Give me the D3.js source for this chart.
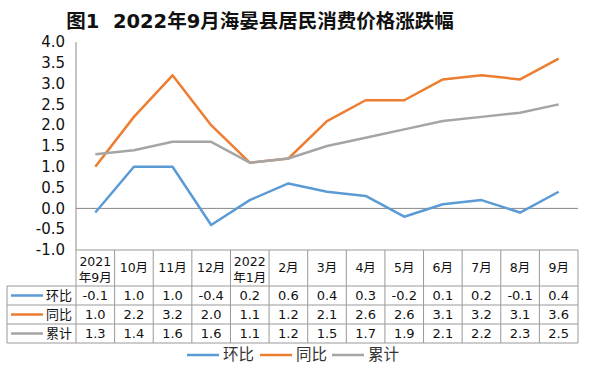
<!DOCTYPE html>
<html><head><meta charset="utf-8">
<script src="https://cdn.jsdelivr.net/npm/d3@7"></script>
<style>body{margin:0;background:#fff}svg{display:block;font-family:"DejaVu Sans","Noto Sans CJK SC",sans-serif}</style>
</head><body>
<script>
const categories = [["2021","年9月"],["10月"],["11月"],["12月"],["2022","年1月"],["2月"],["3月"],["4月"],["5月"],["6月"],["7月"],["8月"],["9月"]];
const seriesNames = ["环比","同比","累计"];
const huanbi = [-0.1,1.0,1.0,-0.4,0.2,0.6,0.4,0.3,-0.2,0.1,0.2,-0.1,0.4];
const tongbi = [1.0,2.2,3.2,2.0,1.1,1.2,2.1,2.6,2.6,3.1,3.2,3.1,3.6];
const leiji = [1.3,1.4,1.6,1.6,1.1,1.2,1.5,1.7,1.9,2.1,2.2,2.3,2.5];
const yTicks = [4.0,3.5,3.0,2.5,2.0,1.5,1.0,0.5,0.0,-0.5,-1.0];
const colors = ["#5B9BD5","#ED7D31","#A5A5A5"];
const series = [huanbi, tongbi, leiji];

const W=590,H=368;
const svg=d3.select("body").append("svg").attr("width",W).attr("height",H);
const L=76,R=578,T=42,B=250;
const x=d3.scaleBand().domain(d3.range(categories.length)).range([L,R]);
const y=d3.scaleLinear().domain([-1,4]).range([B,T]);

svg.append("text").attr("x",260).attr("y",28).attr("text-anchor","middle")
  .style("white-space","pre")
  .attr("font-size",19.5).attr("font-weight","bold").attr("fill","#111")
  .text("图1  2022年9月海晏县居民消费价格涨跌幅");

// y labels
svg.append("g").selectAll("text").data(yTicks).join("text")
  .attr("x",65).attr("y",d=>y(d)).attr("dy","0.35em").attr("text-anchor","end")
  .attr("font-size",15).attr("fill","#111").text(d=>d.toFixed(1));

// axis line & zero line
svg.append("line").attr("x1",L).attr("x2",L).attr("y1",T).attr("y2",B).attr("stroke","#888");
svg.append("line").attr("x1",L).attr("x2",R).attr("y1",y(0)).attr("y2",y(0)).attr("stroke","#888");

const line=d3.line().x((d,i)=>x(i)+x.bandwidth()/2).y(d=>y(d));
series.forEach((s,k)=>{
  svg.append("path").datum(s).attr("d",line).attr("fill","none")
    .attr("stroke",colors[k]).attr("stroke-width",2.5).attr("stroke-linejoin","round");
});

// table
const hTop=B, hBot=286, rowH=19, tLeft=7;
const g=svg.append("g");
const gridC="#999";
categories.forEach((c,i)=>{
  const cx=x(i)+x.bandwidth()/2;
  if(c.length===2){
    g.append("text").attr("x",cx).attr("y",262).attr("dy","0.35em").attr("text-anchor","middle").attr("font-size",12.5).attr("fill","#111").text(c[0]);
    g.append("text").attr("x",cx).attr("y",278).attr("dy","0.35em").attr("text-anchor","middle").attr("font-size",12.5).attr("fill","#111").text(c[1]);
  } else {
    g.append("text").attr("x",cx).attr("y",(hTop+hBot)/2).attr("dy","0.35em").attr("text-anchor","middle").attr("font-size",12.5).attr("fill","#111").text(c[0]);
  }
});
series.forEach((s,k)=>{
  const ry=hBot+k*rowH;
  g.append("line").attr("x1",11).attr("x2",43).attr("y1",ry+rowH/2).attr("y2",ry+rowH/2).attr("stroke",colors[k]).attr("stroke-width",2.5);
  g.append("text").attr("x",72).attr("y",ry+rowH/2).attr("dy","0.35em").attr("text-anchor","end").attr("font-size",13).attr("fill","#111").text(seriesNames[k]);
  s.forEach((v,i)=>{
    g.append("text").attr("x",x(i)+x.bandwidth()/2).attr("y",ry+rowH/2).attr("dy","0.35em").attr("text-anchor","middle").attr("font-size",13).attr("fill","#111").text(v.toFixed(1));
  });
});
const bottom=hBot+3*rowH;
g.append("line").attr("x1",L).attr("x2",R).attr("y1",hTop).attr("y2",hTop).attr("stroke",gridC);
for(let k=0;k<=3;k++){
  g.append("line").attr("x1",tLeft).attr("x2",R).attr("y1",hBot+k*rowH).attr("y2",hBot+k*rowH).attr("stroke",gridC);
}
g.append("line").attr("x1",tLeft).attr("x2",tLeft).attr("y1",hBot).attr("y2",bottom).attr("stroke",gridC);
for(let i=0;i<=categories.length;i++){
  const xx=i<categories.length?x(i):R;
  g.append("line").attr("x1",xx).attr("x2",xx).attr("y1",hTop).attr("y2",bottom).attr("stroke",gridC);
}

// legend
const legX=[187,260,332];
seriesNames.forEach((n,k)=>{
  svg.append("line").attr("x1",legX[k]).attr("x2",legX[k]+32).attr("y1",355).attr("y2",355).attr("stroke",colors[k]).attr("stroke-width",2.5);
  svg.append("text").attr("x",legX[k]+36).attr("y",355).attr("dy","0.35em").attr("font-size",15.5).attr("fill","#333").text(n);
});
</script>
</body></html>
